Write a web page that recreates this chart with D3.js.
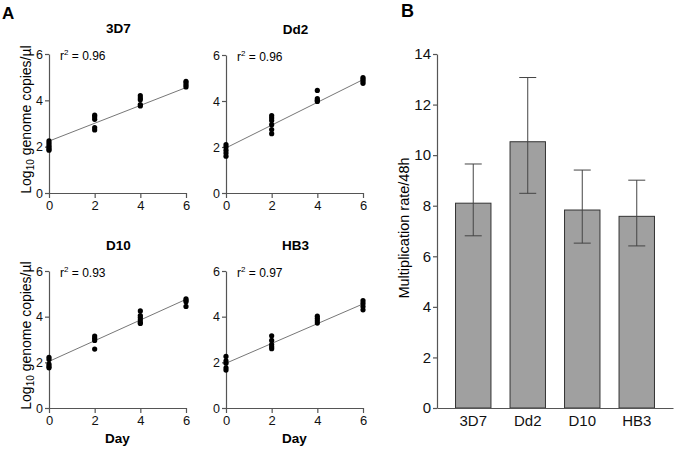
<!DOCTYPE html>
<html><head><meta charset="utf-8">
<script src="https://cdn.jsdelivr.net/npm/d3@7"></script>
<style>body{margin:0;background:#fff}svg{display:block;font-family:"Liberation Sans",Arial,sans-serif}</style>
</head><body><svg id="c" width="675" height="449"></svg>
<script>
// ---- Data ----
const strains = ["3D7", "Dd2", "D10", "HB3"];
const days = [0, 2, 4, 6];
const rSquared = ["0.96", "0.96", "0.93", "0.97"];
// log10 genome copies/µl per strain, per day
const pts3D7 = [[2.25, 2.15, 2.05, 1.98, 1.9, 1.85], [3.36, 3.28, 3.18, 2.82, 2.72], [4.2, 4.1, 4.02, 3.82, 3.76], [4.82, 4.75, 4.66, 4.58]];
const ptsDd2 = [[2.1, 2.0, 1.86, 1.74, 1.6], [3.36, 3.26, 3.15, 2.97, 2.76, 2.58], [4.46, 4.1, 4.03, 3.98], [5.02, 4.95, 4.86, 4.77]];
const ptsD10 = [[2.22, 2.12, 1.92, 1.82, 1.76], [3.15, 3.06, 2.96, 2.58], [4.25, 4.05, 3.96, 3.86, 3.76, 3.7], [4.78, 4.72, 4.65, 4.45]];
const ptsHB3 = [[2.26, 2.06, 1.96, 1.76, 1.66], [3.16, 2.96, 2.78, 2.68, 2.6], [4.02, 3.92, 3.82, 3.72], [4.7, 4.58, 4.44, 4.3]];
const fitIntercept = [2.24, 1.96, 2.04, 1.96];
const fitSlope = [0.385, 0.495, 0.453, 0.433];
const yTicksA = [0, 2, 4, 6];
// panel B
const rateMean = [8.1, 10.53, 7.83, 7.58];
const rateLow = [6.81, 8.49, 6.52, 6.41];
const rateHigh = [9.65, 13.07, 9.41, 9.01];
const yTicksB = [0, 2, 4, 6, 8, 10, 12, 14];

const svg = d3.select("#c");
const AX = "#555";
const pointsAll = [pts3D7, ptsDd2, ptsD10, ptsHB3];
const fmt = d3.format("d");

function styleAxis(g, fs) {
  g.selectAll("path.domain").attr("stroke", AX).attr("stroke-width", 1.2);
  g.selectAll(".tick line").attr("stroke", AX).attr("stroke-width", 1.2);
  g.selectAll(".tick text").attr("fill", "#111").style("font-size", fs + "px")
    .style("font-family", '"Liberation Sans",Arial,sans-serif');
}

const panelPos = [
  {x0: 49, y0: 54, x1: 186, y1: 193},
  {x0: 226, y0: 55, x1: 363, y1: 193},
  {x0: 49, y0: 271, x1: 186, y1: 408},
  {x0: 226, y0: 271, x1: 363, y1: 408}
];

strains.forEach((s, i) => {
  const p = panelPos[i];
  const x = d3.scaleLinear().domain([0, 6]).range([p.x0, p.x1]);
  const y = d3.scaleLinear().domain([0, 6]).range([p.y1, p.y0]);
  const g = svg.append("g");
  const gx = g.append("g").attr("transform", `translate(0,${p.y1})`)
    .call(d3.axisBottom(x).tickValues(days).tickFormat(fmt).tickSize(5).tickPadding(3).tickSizeOuter(0));
  styleAxis(gx, 13);
  const gy = g.append("g").attr("transform", `translate(${p.x0},0)`)
    .call(d3.axisLeft(y).tickValues(yTicksA).tickFormat(fmt).tickSize(4).tickPadding(2).tickSizeOuter(0));
  styleAxis(gy, 12.5);
  // fit line
  g.append("line")
    .attr("x1", x(0)).attr("y1", y(fitIntercept[i]))
    .attr("x2", x(6)).attr("y2", y(fitIntercept[i] + 6 * fitSlope[i]))
    .attr("stroke", "#777").attr("stroke-width", 1);
  // points
  const flat = [];
  pointsAll[i].forEach((arr, di) => arr.forEach(v => flat.push({d: days[di], v})));
  g.selectAll("circle").data(flat).join("circle")
    .attr("cx", d => x(d.d)).attr("cy", d => y(d.v)).attr("r", 2.6).attr("fill", "#000");
  // title
  g.append("text").attr("x", (p.x0 + p.x1) / 2 + 1).attr("y", p.y0 - 21)
    .attr("text-anchor", "middle").style("font-size", "13.5px").style("font-weight", "bold").text(s);
  // r^2
  const t = g.append("text").attr("x", p.x0 + 11).attr("y", p.y0 + 6).style("font-size", "12px");
  t.append("tspan").text("r");
  t.append("tspan").attr("dy", -5).style("font-size", "8px").text("2");
  t.append("tspan").attr("dy", 5).text(" = " + rSquared[i]);
  // y label (left panels)
  if (i % 2 === 0) {
    const yl = g.append("text").attr("transform", `translate(31,${(p.y0 + p.y1) / 2 - 4}) rotate(-90)`)
      .attr("text-anchor", "middle").style("font-size", "14px");
    yl.append("tspan").text("Log");
    yl.append("tspan").attr("dy", 3).style("font-size", "10px").text("10");
    yl.append("tspan").attr("dy", -3).text(" genome copies/µl");
  }
  if (i >= 2) {
    g.append("text").attr("x", (p.x0 + p.x1) / 2).attr("y", 443).attr("text-anchor", "middle")
      .style("font-size", "13.5px").style("font-weight", "bold").text("Day");
  }
});

// panel letters
svg.append("text").attr("x", 2).attr("y", 19).style("font-size", "17px").style("font-weight", "bold").text("A");
svg.append("text").attr("x", 401).attr("y", 17).style("font-size", "18px").style("font-weight", "bold").text("B");

// ---- Panel B ----
const xb = d3.scaleBand().domain(strains).range([437, 673]).paddingInner(0.35).paddingOuter(0.34);
const yb = d3.scaleLinear().domain([0, 14]).range([408, 54]);
const gb = svg.append("g");
gb.selectAll("rect").data(strains).join("rect")
  .attr("x", d => xb(d)).attr("width", xb.bandwidth())
  .attr("y", (d, i) => yb(rateMean[i])).attr("height", (d, i) => yb(0) - yb(rateMean[i]))
  .attr("fill", "#a0a0a0").attr("stroke", "#333").attr("stroke-width", 1);
const eb = gb.selectAll("g.err").data(strains).join("g").attr("class", "err");
eb.append("line").attr("x1", d => xb(d) + xb.bandwidth() / 2).attr("x2", d => xb(d) + xb.bandwidth() / 2)
  .attr("y1", (d, i) => yb(rateLow[i])).attr("y2", (d, i) => yb(rateHigh[i]))
  .attr("stroke", "#444").attr("stroke-width", 1);
eb.append("line").attr("x1", d => xb(d) + xb.bandwidth() / 2 - 8.5).attr("x2", d => xb(d) + xb.bandwidth() / 2 + 8.5)
  .attr("y1", (d, i) => yb(rateHigh[i])).attr("y2", (d, i) => yb(rateHigh[i]))
  .attr("stroke", "#444").attr("stroke-width", 1);
eb.append("line").attr("x1", d => xb(d) + xb.bandwidth() / 2 - 8.5).attr("x2", d => xb(d) + xb.bandwidth() / 2 + 8.5)
  .attr("y1", (d, i) => yb(rateLow[i])).attr("y2", (d, i) => yb(rateLow[i]))
  .attr("stroke", "#444").attr("stroke-width", 1);
const gbx = gb.append("g").attr("transform", "translate(0,408)")
  .call(d3.axisBottom(xb).tickSize(0).tickPadding(7).tickSizeOuter(0));
styleAxis(gbx, 15);
const gby = gb.append("g").attr("transform", "translate(437,0)")
  .call(d3.axisLeft(yb).tickValues(yTicksB).tickSize(4).tickPadding(2).tickSizeOuter(0));
styleAxis(gby, 15);
gb.append("text").attr("transform", `translate(409,228) rotate(-90)`).attr("text-anchor", "middle")
  .style("font-size", "14.5px").text("Multiplication rate/48h");
</script></body></html>
